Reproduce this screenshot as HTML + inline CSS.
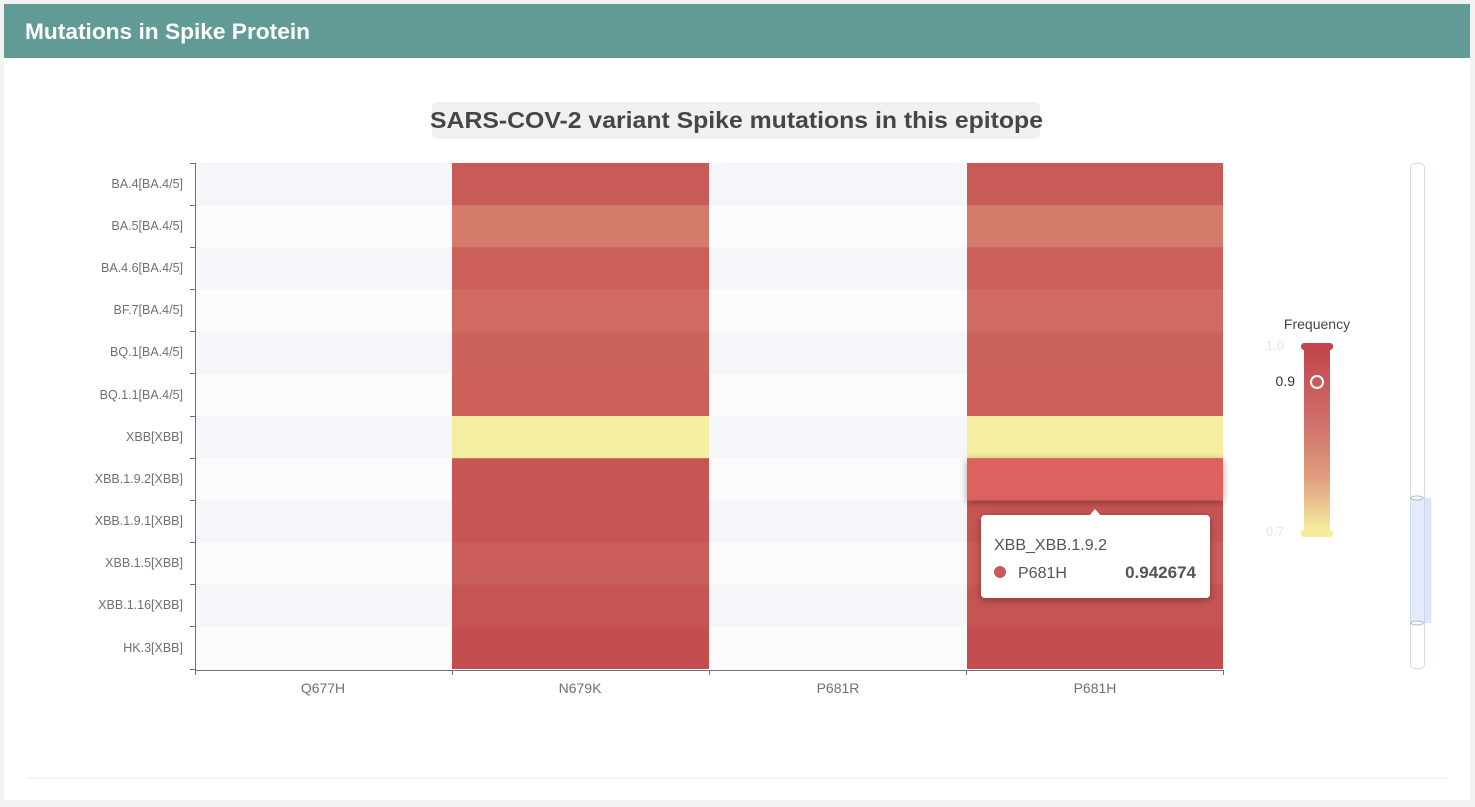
<!DOCTYPE html>
<html><head><meta charset="utf-8"><style>
body{margin:0;width:1475px;height:807px;background:#f2f2f2;font-family:"Liberation Sans",sans-serif;overflow:hidden}
</style></head><body>
<svg width="1475" height="807" xmlns="http://www.w3.org/2000/svg" style="position:absolute;left:0;top:0">
<defs>
<linearGradient id="g" x1="0" y1="0" x2="0" y2="1">
<stop offset="0" stop-color="#c2464c"/><stop offset="0.4" stop-color="#d0706a"/><stop offset="0.7" stop-color="#df9c7e"/><stop offset="1" stop-color="#f5eca0"/>
</linearGradient>
<filter id="sh" x="-10%" y="-50%" width="120%" height="200%"><feDropShadow dx="0" dy="2" stdDeviation="4" flood-color="#000" flood-opacity="0.35"/></filter>
</defs>
<rect x="4" y="4" width="1466" height="796" fill="#fff"/>
<rect x="4" y="4" width="1466" height="54" fill="#629b96"/>
<text x="25" y="39" font-size="22" font-weight="bold" fill="#fff" textLength="285" lengthAdjust="spacingAndGlyphs">Mutations in Spike Protein</text>
<rect x="432" y="102" width="608" height="37" rx="6" fill="#f1f1f1"/>
<text x="430" y="128" font-size="23" font-weight="bold" fill="#464646" textLength="613" lengthAdjust="spacingAndGlyphs">SARS-COV-2 variant Spike mutations in this epitope</text>
<line x1="27" y1="778" x2="1448" y2="778" stroke="#ececec"/>
<g>
<rect x="195" y="163" width="1028" height="42.2" fill="#f5f6fa"/>
<rect x="195" y="205.2" width="1028" height="42.2" fill="#fcfcfc"/>
<rect x="195" y="247.3" width="1028" height="42.2" fill="#f5f6fa"/>
<rect x="195" y="289.5" width="1028" height="42.2" fill="#fcfcfc"/>
<rect x="195" y="331.7" width="1028" height="42.2" fill="#f5f6fa"/>
<rect x="195" y="373.8" width="1028" height="42.2" fill="#fcfcfc"/>
<rect x="195" y="416" width="1028" height="42.2" fill="#f5f6fa"/>
<rect x="195" y="458.2" width="1028" height="42.2" fill="#fcfcfc"/>
<rect x="195" y="500.3" width="1028" height="42.2" fill="#f5f6fa"/>
<rect x="195" y="542.5" width="1028" height="42.2" fill="#fcfcfc"/>
<rect x="195" y="584.7" width="1028" height="42.2" fill="#f5f6fa"/>
<rect x="195" y="626.8" width="1028" height="42.2" fill="#fcfcfc"/>
</g>
<g>
<rect x="452" y="163" width="257" height="42.5" fill="#c85a58"/><rect x="967" y="163" width="256" height="42.5" fill="#c85a58"/>
<rect x="452" y="205.2" width="257" height="42.5" fill="#d47b6b"/><rect x="967" y="205.2" width="256" height="42.5" fill="#d47b6b"/>
<rect x="452" y="247.3" width="257" height="42.5" fill="#cb5f5a"/><rect x="967" y="247.3" width="256" height="42.5" fill="#cb5f5a"/>
<rect x="452" y="289.5" width="257" height="42.5" fill="#d06b63"/><rect x="967" y="289.5" width="256" height="42.5" fill="#d06b63"/>
<rect x="452" y="331.7" width="257" height="42.5" fill="#cc625c"/><rect x="967" y="331.7" width="256" height="42.5" fill="#cc625c"/>
<rect x="452" y="373.8" width="257" height="42.5" fill="#cc615c"/><rect x="967" y="373.8" width="256" height="42.5" fill="#cc615c"/>
<rect x="452" y="416" width="257" height="42.5" fill="#f4eea0"/><rect x="967" y="416" width="256" height="42.5" fill="#f4eea0"/>
<rect x="452" y="458.2" width="257" height="42.5" fill="#c65553"/>
<rect x="452" y="500.3" width="257" height="42.5" fill="#c65553"/><rect x="967" y="500.3" width="256" height="42.5" fill="#c65553"/>
<rect x="452" y="542.5" width="257" height="42.5" fill="#c95d59"/><rect x="967" y="542.5" width="256" height="42.5" fill="#c95d59"/>
<rect x="452" y="584.7" width="257" height="42.5" fill="#c65454"/><rect x="967" y="584.7" width="256" height="42.5" fill="#c65454"/>
<rect x="452" y="626.8" width="257" height="42.2" fill="#c44d50"/><rect x="967" y="626.8" width="256" height="42.2" fill="#c44d50"/>
<rect x="967" y="458.2" width="256" height="42.2" fill="#c65553"/>
<rect x="967" y="458.2" width="256" height="42.2" fill="#dc6260" filter="url(#sh)"/>
</g>
<g stroke="#6e7079" stroke-width="1">
<line x1="195.5" y1="163" x2="195.5" y2="670"/>
<line x1="195" y1="670.5" x2="1224" y2="670.5"/>
<line x1="190" y1="163.5" x2="195" y2="163.5"/>
<line x1="190" y1="205.5" x2="195" y2="205.5"/><line x1="190" y1="247.5" x2="195" y2="247.5"/><line x1="190" y1="289.5" x2="195" y2="289.5"/><line x1="190" y1="331.5" x2="195" y2="331.5"/><line x1="190" y1="373.5" x2="195" y2="373.5"/><line x1="190" y1="416.5" x2="195" y2="416.5"/><line x1="190" y1="458.5" x2="195" y2="458.5"/><line x1="190" y1="500.5" x2="195" y2="500.5"/><line x1="190" y1="542.5" x2="195" y2="542.5"/><line x1="190" y1="584.5" x2="195" y2="584.5"/><line x1="190" y1="626.5" x2="195" y2="626.5"/><line x1="190" y1="669.5" x2="195" y2="669.5"/>
<line x1="195.5" y1="670" x2="195.5" y2="675"/><line x1="452.5" y1="670" x2="452.5" y2="675"/><line x1="709.5" y1="670" x2="709.5" y2="675"/><line x1="966.5" y1="670" x2="966.5" y2="675"/><line x1="1223.5" y1="670" x2="1223.5" y2="675"/>
</g>
<g font-size="12.5" fill="#6e7079" text-anchor="end">
<text x="183" y="188">BA.4[BA.4/5]</text>
<text x="183" y="230">BA.5[BA.4/5]</text>
<text x="183" y="272">BA.4.6[BA.4/5]</text>
<text x="183" y="314">BF.7[BA.4/5]</text>
<text x="183" y="356">BQ.1[BA.4/5]</text>
<text x="183" y="399">BQ.1.1[BA.4/5]</text>
<text x="183" y="441">XBB[XBB]</text>
<text x="183" y="483">XBB.1.9.2[XBB]</text>
<text x="183" y="525">XBB.1.9.1[XBB]</text>
<text x="183" y="567">XBB.1.5[XBB]</text>
<text x="183" y="609">XBB.1.16[XBB]</text>
<text x="183" y="652">HK.3[XBB]</text>
</g>
<g font-size="14" fill="#6e7079" text-anchor="middle">
<text x="323" y="693">Q677H</text><text x="580" y="693">N679K</text><text x="838" y="693">P681R</text><text x="1095" y="693">P681H</text>
</g>
<g filter="url(#sh)">
<rect x="981" y="515" width="229" height="83" rx="4" fill="#fff"/>
</g>
<path d="M1089 516 L1095 509 L1101 516 Z" fill="#fff"/>
<text x="994" y="550" font-size="16" fill="#555">XBB_XBB.1.9.2</text>
<circle cx="1000" cy="572" r="6" fill="#c85a58"/>
<text x="1018" y="578" font-size="16" fill="#555">P681H</text>
<text x="1196" y="578" font-size="17" font-weight="bold" fill="#555" text-anchor="end">0.942674</text>
<text x="1317" y="329" font-size="14" fill="#444" text-anchor="middle">Frequency</text>
<text x="1284" y="350" font-size="13" fill="#e6e6e6" text-anchor="end">1.0</text>
<rect x="1301" y="343" width="32" height="7" rx="3" fill="#c2464c"/>
<rect x="1304" y="350" width="26" height="180" fill="url(#g)"/>
<rect x="1301" y="530" width="32" height="7" rx="3" fill="#f5eca0"/>
<text x="1284" y="536" font-size="13" fill="#e6e6e6" text-anchor="end">0.7</text>
<text x="1295" y="386" font-size="14" fill="#333" text-anchor="end">0.9</text>
<circle cx="1317" cy="382" r="6" fill="none" stroke="#fff" stroke-width="2"/>
<rect x="1410.5" y="163.5" width="14" height="505" rx="4" fill="#fff" stroke="#d2dbee"/>
<rect x="1410.5" y="498" width="21" height="125" fill="#dfe7f6"/>
<rect x="1410.5" y="498" width="14" height="125" fill="#e4ecfb" stroke="#c9d6ef"/>
<ellipse cx="1417" cy="498" rx="6" ry="2" fill="#fff" stroke="#a9b6cc"/>
<ellipse cx="1417" cy="623" rx="6" ry="2" fill="#fff" stroke="#a9b6cc"/>
</svg>
</body></html>
